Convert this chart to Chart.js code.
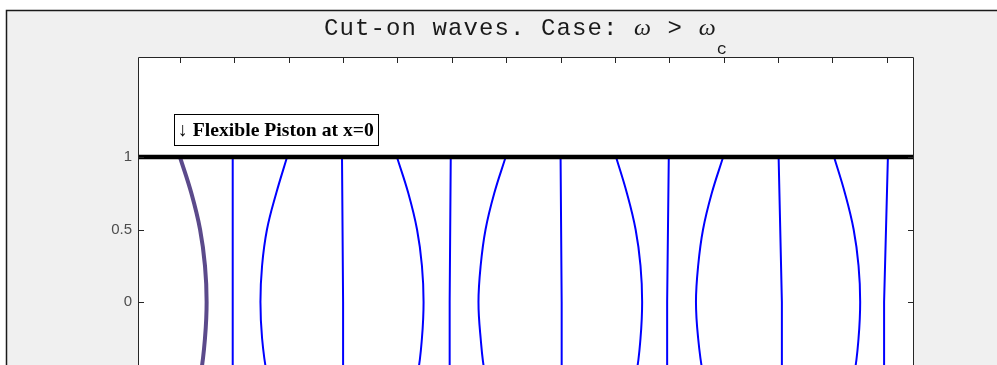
<!DOCTYPE html>
<html>
<head>
<meta charset="utf-8">
<script src="https://cdn.jsdelivr.net/npm/chart.js@4.4.1/dist/chart.umd.min.js"></script>
<style>
  html, body { margin: 0; padding: 0; background: #fff; overflow: hidden; }
  #wrap { position: relative; width: 997px; height: 365px; overflow: hidden; }
  canvas { position: absolute; left: 0; top: 0; }
</style>
</head>
<body>
<div id="wrap"><canvas id="waveChart" width="997" height="600"></canvas></div>
<script>
// axis limits and ticks
const xMin = -0.772;
const xMax = 13.5;
const yMin = -1.69;
const yMax = 1.69;
const xTicks = [0, 1, 2, 3, 4, 5, 6, 7, 8, 9, 10, 11, 12, 13];
const yTicks = [-1, -0.5, 0, 0.5, 1];

// duct walls (y = 1 and y = -1)
const wallX = [xMin, xMax];
const wallTopY = [1, 1];
const wallBottomY = [-1, -1];

// y levels where the curved contours were read
const yCurve = [1, 0.75, 0.5, 0.25, 0, -0.25, -0.5, -0.75, -1];
// the flexible piston (x = 0)
const pistonX = [0, 0.21, 0.37, 0.46, 0.49, 0.46, 0.38, 0.22, 0];
// curved contours
const curve2 = [1.97, 1.77, 1.6, 1.51, 1.48, 1.51, 1.6, 1.77, 1.97];
const curve4 = [3.99, 4.2, 4.36, 4.45, 4.48, 4.45, 4.37, 4.2, 3.99];
const curve6 = [5.99, 5.78, 5.62, 5.53, 5.49, 5.53, 5.61, 5.78, 5.99];
const curve8 = [8.02, 8.22, 8.38, 8.47, 8.5, 8.47, 8.39, 8.22, 8.02];
const curve10 = [9.99, 9.78, 9.62, 9.53, 9.49, 9.53, 9.62, 9.78, 9.99];
const curve12 = [12.03, 12.23, 12.39, 12.48, 12.51, 12.48, 12.4, 12.23, 12.03];

// nearly straight contours
const yStraight = [1, 0, -1];
const line1 = [0.97, 0.97, 0.97];
const line3 = [2.98, 3.0, 3.0];
const line5 = [4.98, 4.96, 4.96];
const line7 = [7.0, 7.02, 7.02];
const line9 = [8.99, 8.96, 8.96];
const line11 = [11.01, 11.07, 11.07];
const line13 = [13.02, 12.95, 12.95];

function toPoints(xs, ys) {
  return xs.map((x, i) => ({ x: x, y: ys[i] }));
}

function lineSet(xs, ys, color, width, tension, order) {
  return {
    data: toPoints(xs, ys),
    showLine: true,
    borderColor: color,
    borderWidth: width,
    pointRadius: 0,
    tension: tension,
    fill: false,
    order: order,
  };
}

const blue = "#0000ff";
const datasets = [
  lineSet(wallX, wallTopY, "#000000", 4.5, 0, 0),
  lineSet(wallX, wallBottomY, "#000000", 4.5, 0, 0),
  lineSet(pistonX, yCurve, "#5b4a8b", 4, 0.4, 1),
];
[curve2, curve4, curve6, curve8, curve10, curve12].forEach((xs) => {
  datasets.push(lineSet(xs, yCurve, blue, 2, 0.4, 2));
});
[line1, line3, line5, line7, line9, line11, line13].forEach((xs) => {
  datasets.push(lineSet(xs, yStraight, blue, 2, 0, 2));
});

// figure background, axes box, inside ticks, title and text box
const matlabFigure = {
  id: "matlabFigure",
  beforeDraw(chart) {
    const ctx = chart.ctx;
    const a = chart.chartArea;
    ctx.save();
    ctx.fillStyle = "#ffffff";
    ctx.fillRect(0, 0, chart.width, chart.height);
    ctx.fillStyle = "#f0f0f0";
    ctx.fillRect(6, 10, chart.width - 6, chart.height - 10);
    ctx.strokeStyle = "#1a1a1a";
    ctx.lineWidth = 1.5;
    ctx.beginPath();
    ctx.moveTo(6.5, chart.height);
    ctx.lineTo(6.5, 10.5);
    ctx.lineTo(chart.width, 10.5);
    ctx.stroke();
    ctx.fillStyle = "#ffffff";
    ctx.fillRect(a.left, a.top, a.right - a.left, a.bottom - a.top);
    ctx.restore();
  },
  afterDraw(chart) {
    const ctx = chart.ctx;
    const a = chart.chartArea;
    const sx = chart.scales.x;
    const sy = chart.scales.y;
    ctx.save();

    // axes box + ticks pointing inward
    ctx.strokeStyle = "#262626";
    ctx.lineWidth = 1;
    ctx.beginPath();
    ctx.rect(a.left + 0.5, a.top + 0.5, a.right - a.left - 1, a.bottom - a.top);
    sx.ticks.forEach((t) => {
      const px = Math.round(sx.getPixelForValue(t.value)) + 0.5;
      ctx.moveTo(px, a.top);
      ctx.lineTo(px, a.top + 6);
      ctx.moveTo(px, a.bottom);
      ctx.lineTo(px, a.bottom - 6);
    });
    sy.ticks.forEach((t) => {
      const py = Math.round(sy.getPixelForValue(t.value)) + 0.5;
      ctx.moveTo(a.left, py);
      ctx.lineTo(a.left + 6, py);
      ctx.moveTo(a.right, py);
      ctx.lineTo(a.right - 6, py);
    });
    ctx.stroke();

    // title with subscript
    const mono = '24px "Liberation Mono"';
    const greek = 'italic 24px "Liberation Serif"';
    const sub = '17px "Liberation Mono"';
    const pieces = [
      { text: "Cut-on waves. Case: ", font: mono, dy: 0 },
      { text: "ω", font: greek, dy: 0 },
      { text: " > ", font: mono, dy: 0 },
      { text: "ω", font: greek, dy: 0 },
      { text: "c", font: sub, dy: 19 },
    ];
    ctx.letterSpacing = "1.1px";
    let total = 0;
    pieces.forEach((p) => {
      ctx.font = p.font;
      p.w = ctx.measureText(p.text).width;
      total += p.w;
    });
    let tx = (a.left + a.right) / 2 - total / 2;
    ctx.fillStyle = "#1a1a1a";
    ctx.textBaseline = "alphabetic";
    ctx.textAlign = "left";
    pieces.forEach((p) => {
      ctx.font = p.font;
      ctx.fillText(p.text, tx, 35 + p.dy);
      tx += p.w;
    });
    ctx.letterSpacing = "0px";

    // label box at the piston
    const label = "↓ Flexible Piston at x=0";
    let fs = 16;
    ctx.font = "bold " + fs + 'px "Liberation Serif"';
    fs = (fs * 196) / ctx.measureText(label).width;
    ctx.font = "bold " + fs.toFixed(2) + 'px "Liberation Serif"';
    const lw = ctx.measureText(label).width;
    const lx = sx.getPixelForValue(0) - 2;
    const ly = sy.getPixelForValue(1.19);
    const bx = Math.round(lx - 4) + 0.5;
    const by = Math.round(ly - 15.5) + 0.5;
    ctx.fillStyle = "#ffffff";
    ctx.fillRect(bx, by, Math.round(lw + 8), 31);
    ctx.strokeStyle = "#000000";
    ctx.lineWidth = 1;
    ctx.strokeRect(bx, by, Math.round(lw + 8), 31);
    ctx.fillStyle = "#000000";
    ctx.textBaseline = "middle";
    ctx.fillText(label, lx, ly + 1);

    ctx.restore();
  },
};

const ctx = document.getElementById("waveChart").getContext("2d");
window.waveChart = new Chart(ctx, {
  type: "scatter",
  data: { datasets: datasets },
  options: {
    responsive: false,
    animation: false,
    devicePixelRatio: 1,
    layout: {
      padding: { left: 0, top: 57, right: 83, bottom: 23 },
    },
    plugins: {
      legend: { display: false },
      tooltip: { enabled: false },
      title: { display: false },
    },
    scales: {
      x: {
        type: "linear",
        min: xMin,
        max: xMax,
        afterBuildTicks: (scale) => {
          scale.ticks = xTicks.map((v) => ({ value: v }));
        },
        afterFit: (scale) => {
          scale.height = 30;
        },
        grid: { display: false, drawTicks: false },
        border: { display: false },
        ticks: {
          color: "#4d4d4d",
          font: { family: "Liberation Sans", size: 15 },
          padding: 6,
        },
      },
      y: {
        type: "linear",
        min: yMin,
        max: yMax,
        afterBuildTicks: (scale) => {
          scale.ticks = yTicks.map((v) => ({ value: v }));
        },
        afterFit: (scale) => {
          scale.width = 138;
        },
        grid: { display: false, drawTicks: false },
        border: { display: false },
        ticks: {
          color: "#4d4d4d",
          font: { family: "Liberation Sans", size: 15 },
          padding: 6,
          callback: (v) => String(v),
        },
      },
    },
  },
  plugins: [matlabFigure],
});
</script>
</body>
</html>
